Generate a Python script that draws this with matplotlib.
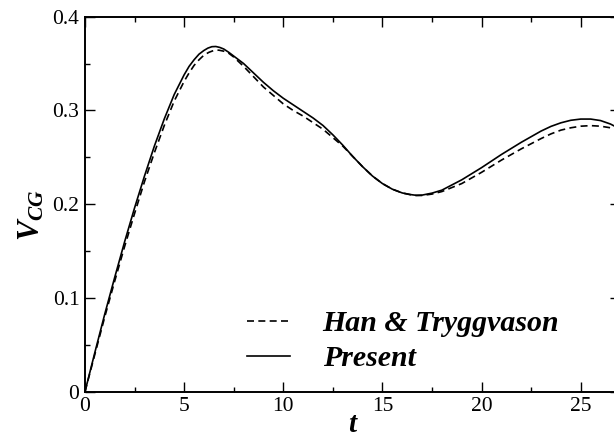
import matplotlib
matplotlib.use('Agg')
import matplotlib.pyplot as plt
from matplotlib.ticker import MultipleLocator

plt.rcParams['font.family'] = ['Liberation Serif', 'DejaVu Serif']
plt.rcParams['mathtext.fontset'] = 'custom'
plt.rcParams['mathtext.it'] = 'Liberation Serif:italic:bold'
plt.rcParams['mathtext.rm'] = 'Liberation Serif:bold'

# Present (solid)
t_present = [0, 0.5, 1, 1.5, 2, 2.5, 3, 3.5, 4, 4.5, 5, 5.25, 5.5, 5.75, 6,
             6.2, 6.4, 6.6, 6.8, 7, 7.25, 7.5, 8, 8.5, 9, 9.5, 10, 10.5, 11,
             11.5, 12, 12.5, 13, 13.5, 14, 14.5, 15, 15.5, 16, 16.4, 16.7,
             17, 17.5, 18, 19, 20, 21, 22, 23, 23.5, 24, 24.5, 25, 25.5, 26,
             26.5, 27]
v_present = [0, 0.042, 0.083, 0.122, 0.160, 0.196, 0.230, 0.262, 0.291,
             0.317, 0.338, 0.347, 0.354, 0.360, 0.364, 0.3665, 0.368, 0.3682,
             0.3672, 0.3655, 0.362, 0.358, 0.350, 0.340, 0.330, 0.321, 0.313,
             0.306, 0.299, 0.292, 0.284, 0.274, 0.263, 0.251, 0.240, 0.230,
             0.222, 0.216, 0.212, 0.2103, 0.2095, 0.2097, 0.2118, 0.215,
             0.226, 0.239, 0.253, 0.266, 0.278, 0.283, 0.2868, 0.2895,
             0.2908, 0.2908, 0.2892, 0.2855, 0.280]

# Han & Tryggvason (dashed)
t_han = [0, 0.5, 1, 1.5, 2, 2.5, 3, 3.5, 4, 4.5, 5, 5.25, 5.5, 5.75, 6,
         6.25, 6.5, 6.75, 7, 7.25, 7.5, 8, 8.5, 9, 9.5, 10, 10.5, 11,
         11.5, 12, 12.5, 13, 13.5, 14, 14.5, 15, 15.5, 16, 16.4, 16.7,
         17, 17.5, 18, 19, 20, 21, 22, 23, 23.5, 24, 24.5, 25, 25.5, 26,
         26.5, 27]
v_han = [0, 0.040, 0.080, 0.118, 0.155, 0.190, 0.224, 0.255, 0.284, 0.310,
         0.331, 0.340, 0.348, 0.354, 0.359, 0.362, 0.364, 0.3643, 0.3632,
         0.361, 0.357, 0.347, 0.336, 0.325, 0.316, 0.307, 0.300, 0.294,
         0.287, 0.280, 0.271, 0.262, 0.251, 0.240, 0.230, 0.222, 0.216,
         0.212, 0.2102, 0.2093, 0.2093, 0.2108, 0.2135, 0.222, 0.234,
         0.247, 0.259, 0.270, 0.275, 0.279, 0.2815, 0.2832, 0.2838,
         0.2832, 0.2815, 0.278]

fig = plt.figure(figsize=(6.14, 4.38), dpi=100)
ax = fig.add_axes([0.1384, 0.1057, 0.872, 0.8562])

line_h, = ax.plot(t_han, v_han, color='black', lw=1.2, label='Han & Tryggvason')
line_h.set_dashes((4.2, 2.6))
ax.plot(t_present, v_present, color='black', lw=1.2, label='Present')

ax.set_xlim(0, 27)
ax.set_ylim(0, 0.4)
ax.xaxis.set_major_locator(MultipleLocator(5))
ax.xaxis.set_minor_locator(MultipleLocator(2.5))
ax.yaxis.set_major_locator(MultipleLocator(0.1))
ax.yaxis.set_minor_locator(MultipleLocator(0.05))
ax.set_yticks([0, 0.1, 0.2, 0.3, 0.4])
ax.set_yticklabels(['0', '0.1', '0.2', '0.3', '0.4'])

ax.tick_params(which='both', direction='in', top=True, right=True,
               labelsize=15.5, pad=4)
ax.tick_params(which='major', length=7, width=1.0)
ax.tick_params(which='minor', length=3.6, width=1.0)
for s in ax.spines.values():
    s.set_linewidth(1.4)

ax.set_xlabel('t', fontsize=21, fontweight='bold', style='italic')
ax.xaxis.set_label_coords(0.499, -0.052)
ax.set_ylabel(r'$V_{CG}$', fontsize=22)
ax.yaxis.set_label_coords(-0.072, 0.47)

fig.legend(loc='center left', bbox_to_anchor=(0.4023, 0.2215),
           frameon=False, borderpad=0, borderaxespad=0,
           handlelength=1.45, handletextpad=1.08, labelspacing=0.27,
           prop={'family': 'Liberation Serif', 'weight': 'bold',
                 'style': 'italic', 'size': 21.5})

fig.savefig('out.png', dpi=100)
